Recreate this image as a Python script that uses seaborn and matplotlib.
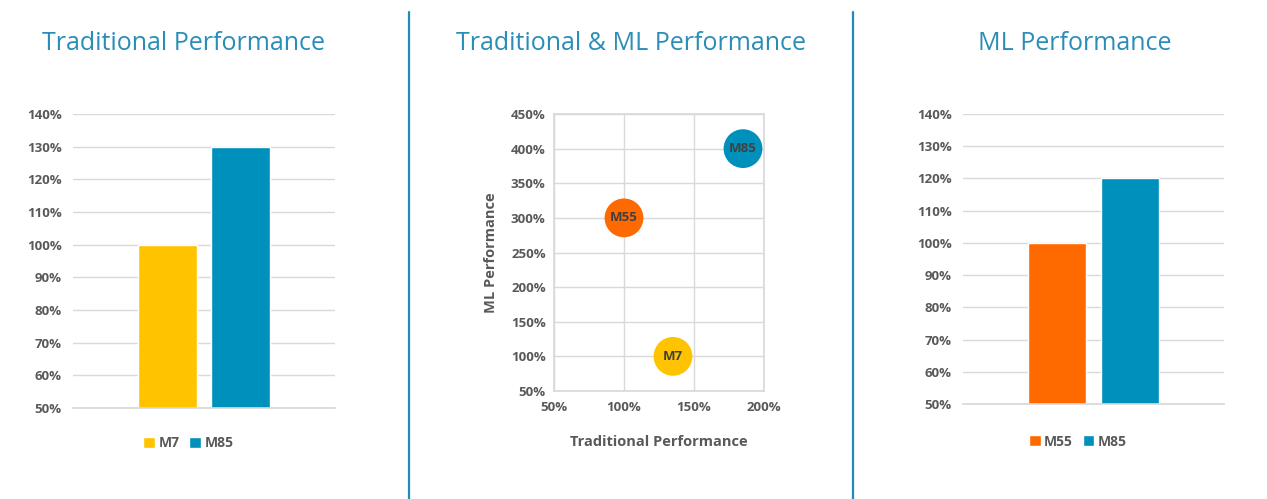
import matplotlib
matplotlib.use("Agg")
import matplotlib.pyplot as plt
from matplotlib.lines import Line2D
from matplotlib.ticker import FuncFormatter, MultipleLocator
import seaborn as sns
import pandas as pd

# data
trad_models = ["M7", "M85"]
trad_values = [100, 130]

ml_models = ["M55", "M85"]
ml_values = [100, 120]

bubble_models = ["M85", "M55", "M7"]
bubble_trad = [185, 100, 135]
bubble_ml = [400, 300, 100]

colors = {"M7": "#FFC300", "M85": "#0090BC", "M55": "#FF6A00"}
title_color = "#2A8DB8"
tick_color = "#595959"
grid_color = "#D9D9D9"

sns.set_theme(style="white")
plt.rcParams["font.family"] = ["Open Sans", "DejaVu Sans"]

W, H = 1267, 499
fig = plt.figure(figsize=(W / 100, H / 100), dpi=100)


def px_axes(x0, x1, ytop, ybot):
    return fig.add_axes([x0 / W, (H - ybot) / H, (x1 - x0) / W, (ybot - ytop) / H])


pct = FuncFormatter(lambda v, p: f"{v:.0f}%")


def bar_panel(ax, models, values, legend_x, legend_y):
    df = pd.DataFrame({"model": models, "value": values})
    sns.barplot(data=df, x="model", y="value", hue="model",
                palette=[colors[m] for m in models], width=0.8,
                dodge=False, legend=True, ax=ax, saturation=1)
    ax.set_xlim(-1.28, 2.28)
    ax.set_ylim(50, 140)
    ax.yaxis.set_major_locator(MultipleLocator(10))
    ax.yaxis.set_major_formatter(pct)
    ax.set_xticks([])
    ax.set_xlabel("")
    ax.set_ylabel("")
    ax.grid(axis="y", color=grid_color, lw=1)
    ax.set_axisbelow(True)
    for s in ["top", "left", "right"]:
        ax.spines[s].set_visible(False)
    ax.spines["bottom"].set_color(grid_color)
    ax.tick_params(axis="y", length=0, pad=8, labelsize=9.5, labelcolor=tick_color)
    for t in ax.get_yticklabels():
        t.set_fontweight("bold")
    ax.legend(loc="center", bbox_to_anchor=(legend_x, legend_y), ncol=2,
              frameon=False, handlelength=0.85, handleheight=0.85,
              handletextpad=0.25, columnspacing=0.7,
              prop={"size": 10, "weight": "bold"}, labelcolor=tick_color)


# left panel
ax1 = px_axes(73, 335, 114, 408)
bar_panel(ax1, trad_models, trad_values, 0.44, -0.12)

# right panel
ax3 = px_axes(963, 1224, 114, 404)
bar_panel(ax3, ml_models, ml_values, 0.44, -0.13)

# middle bubble panel
ax2 = px_axes(554, 764, 114, 391)
bdf = pd.DataFrame({"model": bubble_models, "trad": bubble_trad, "ml": bubble_ml})
sns.scatterplot(data=bdf, x="trad", y="ml", hue="model",
                palette=[colors[m] for m in bubble_models], s=780,
                edgecolor="none", legend=False, ax=ax2, zorder=3)
for m, xv, yv in zip(bubble_models, bubble_trad, bubble_ml):
    ax2.text(xv, yv, m, ha="center", va="center", fontsize=9.5,
             fontweight="bold", color="#404040", zorder=4)
ax2.set_xlim(50, 200)
ax2.set_ylim(50, 450)
ax2.xaxis.set_major_locator(MultipleLocator(50))
ax2.yaxis.set_major_locator(MultipleLocator(50))
ax2.xaxis.set_major_formatter(pct)
ax2.yaxis.set_major_formatter(pct)
ax2.grid(True, color=grid_color, lw=1)
ax2.set_axisbelow(True)
for s in ax2.spines.values():
    s.set_color(grid_color)
ax2.tick_params(length=0, labelsize=9.5, labelcolor=tick_color)
ax2.tick_params(axis="y", pad=6)
ax2.tick_params(axis="x", pad=7)
for t in ax2.get_yticklabels() + ax2.get_xticklabels():
    t.set_fontweight("bold")
ax2.set_xlabel("Traditional Performance", fontsize=10.5, fontweight="bold",
               color=tick_color, labelpad=15)
ax2.set_ylabel("ML Performance", fontsize=10.5, fontweight="bold",
               color=tick_color, labelpad=9)

# titles
for xc, txt in [(184, "Traditional Performance"),
                (631, "Traditional & ML Performance"),
                (1075, "ML Performance")]:
    fig.text(xc / W, (H - 44) / H, txt, ha="center", va="center",
             fontsize=18, color=title_color)

# separators
for xs in [409, 853]:
    fig.add_artist(Line2D([xs / W, xs / W], [0, (H - 12) / H],
                          color="#1F8CB8", lw=1.6))

fig.savefig("out.png", dpi=100, facecolor="white")
